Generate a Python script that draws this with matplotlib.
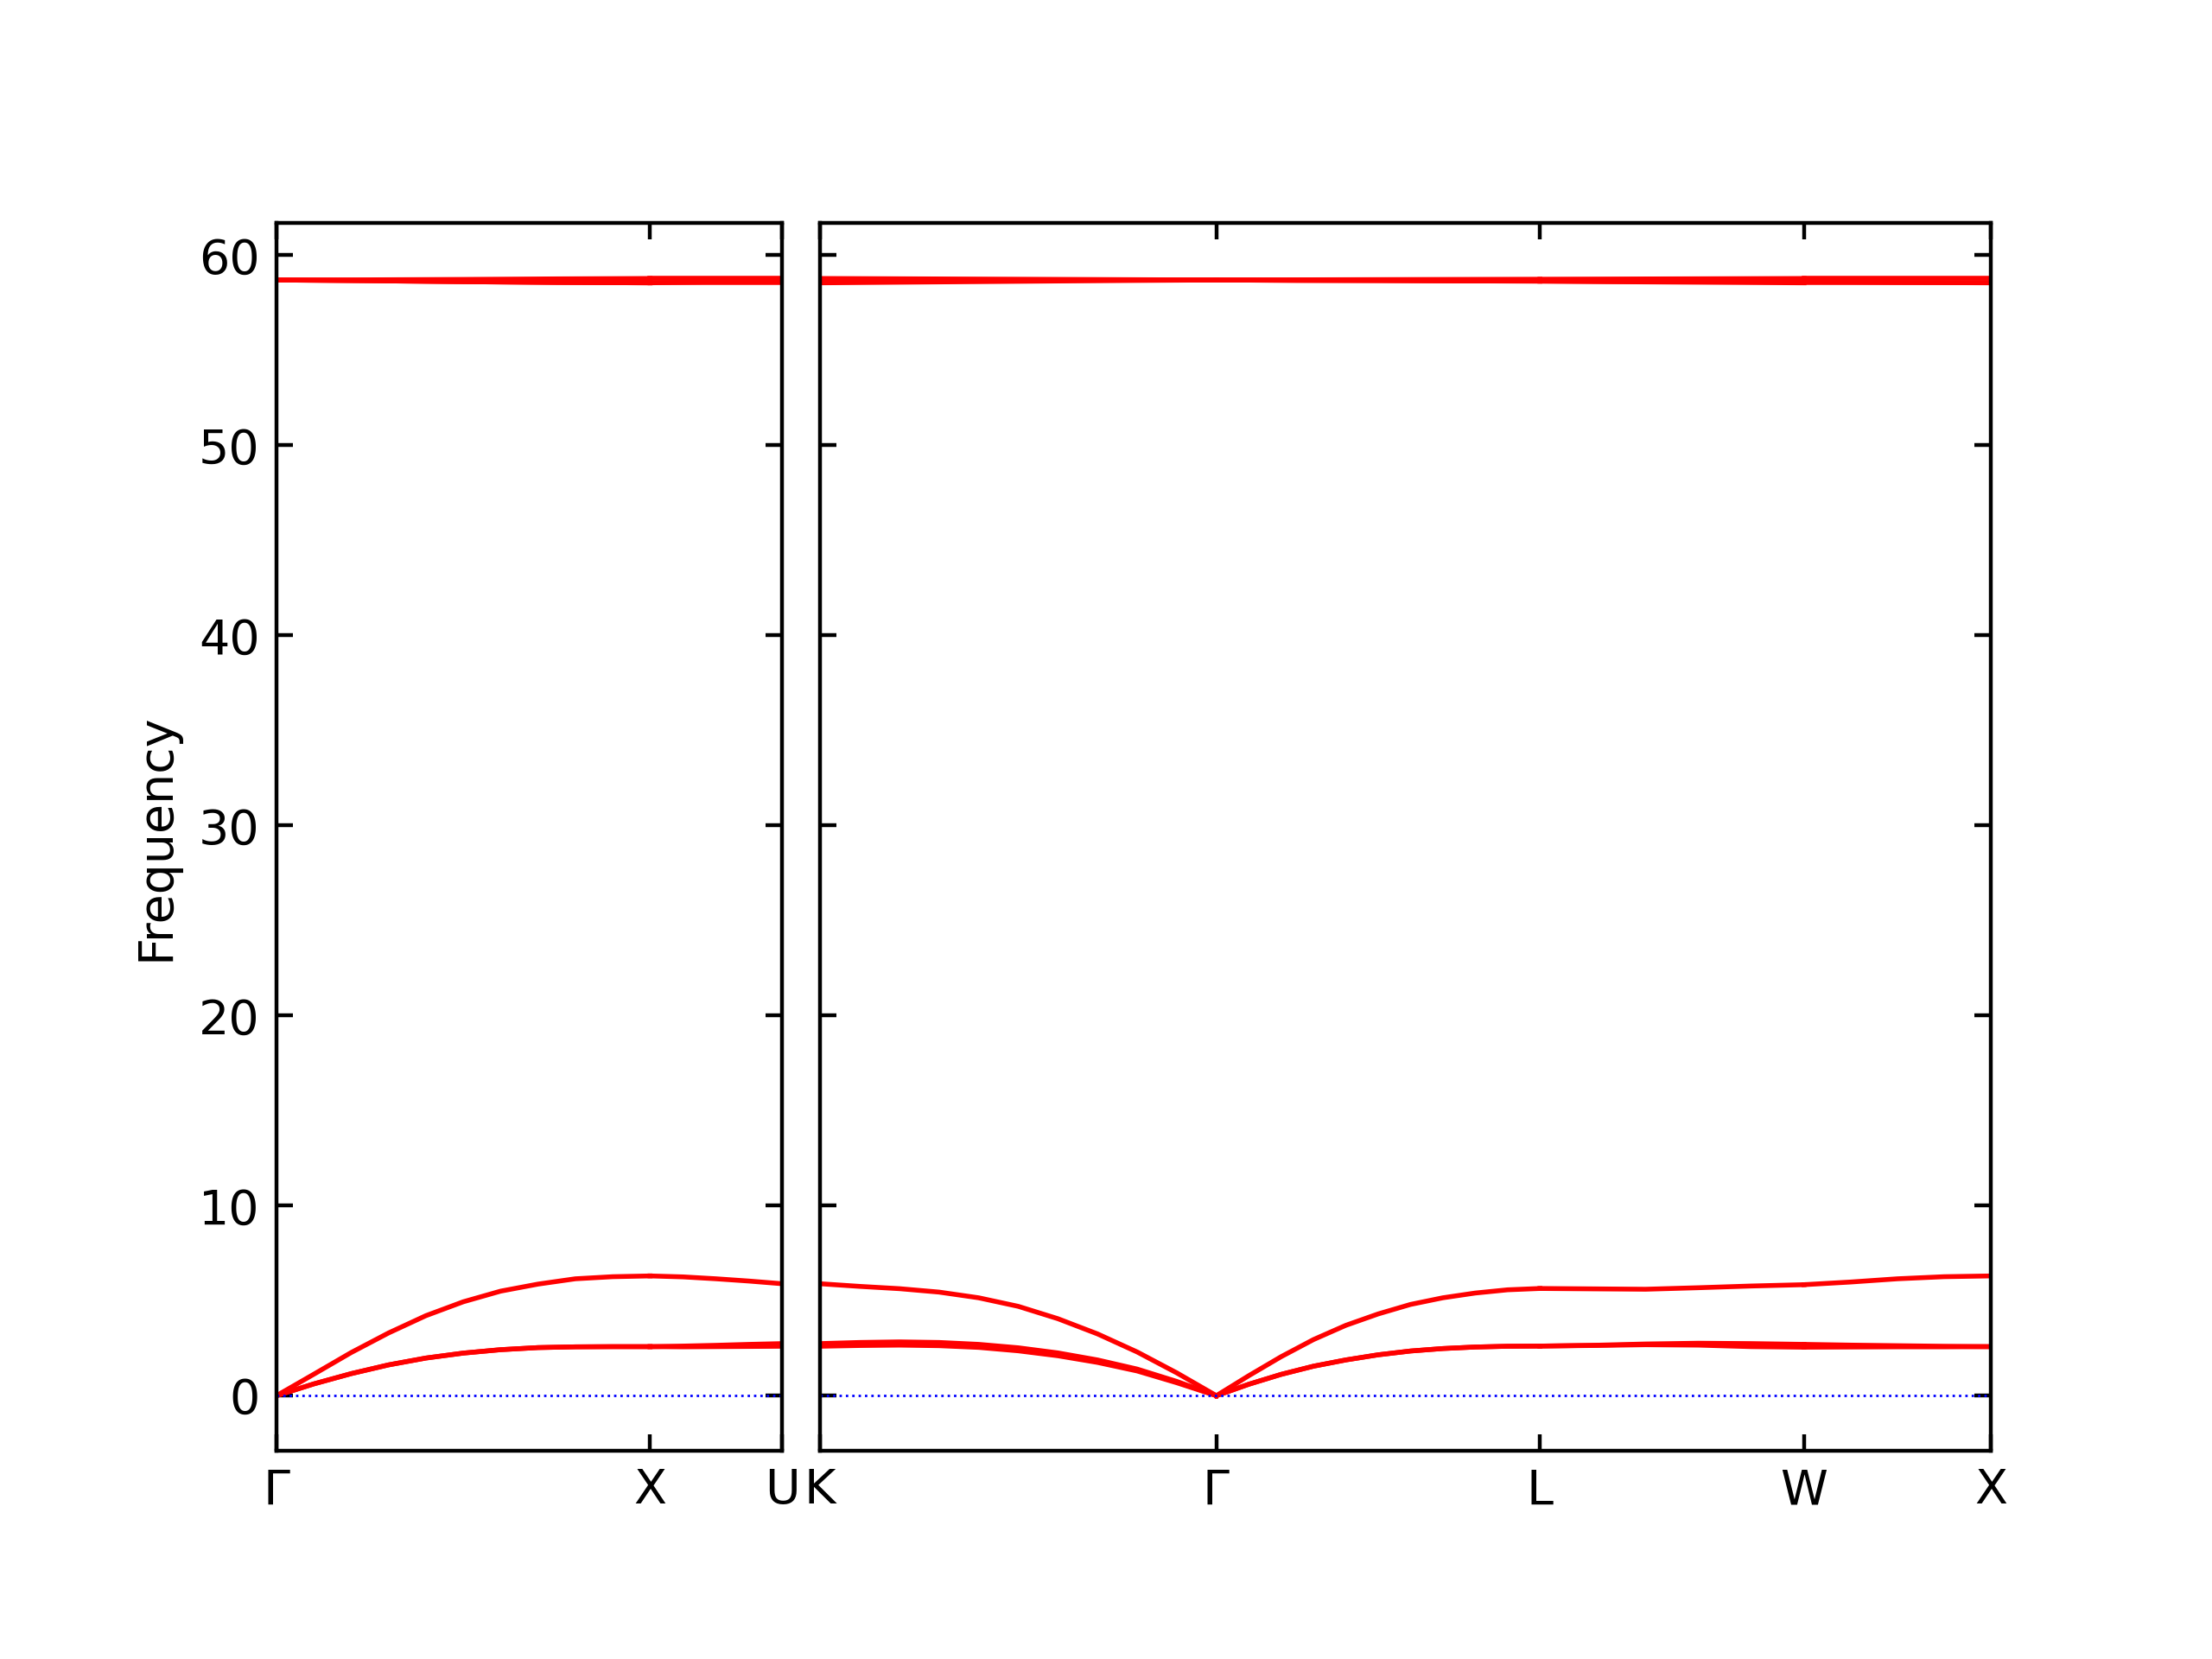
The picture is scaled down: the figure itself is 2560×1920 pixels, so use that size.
import numpy as np
import matplotlib
matplotlib.use("Agg")
import matplotlib.pyplot as plt

# segment lengths along the FCC path (2pi/a units)
seg_len = [1.0, 0.3536, 1.0607, 0.8660, 0.7071, 0.5]

# fractional positions sampled on each segment
t11 = [0.0, 0.1, 0.2, 0.3, 0.4, 0.5, 0.6, 0.7, 0.8, 0.9, 1.0]
t6 = [0.0, 0.2, 0.4, 0.6, 0.8, 1.0]
t5 = [0.0, 0.25, 0.5, 0.75, 1.0]

# acoustic branches: TA1, TA2, LA
gx_ac = [
    [0, 0.62, 1.16, 1.62, 1.98, 2.24, 2.42, 2.53, 2.57, 2.58, 2.58],
    [0, 0.62, 1.16, 1.62, 1.98, 2.24, 2.42, 2.53, 2.57, 2.58, 2.58],
    [0, 1.13, 2.27, 3.30, 4.21, 4.94, 5.50, 5.87, 6.15, 6.26, 6.30],
]
xu_ac = [
    [2.58, 2.57, 2.58, 2.59, 2.60],
    [2.58, 2.61, 2.65, 2.70, 2.74],
    [6.30, 6.25, 6.15, 6.03, 5.89],
]
kg_ac = [
    [2.60, 2.64, 2.66, 2.63, 2.54, 2.36, 2.10, 1.75, 1.30, 0.68, 0],
    [2.74, 2.80, 2.83, 2.80, 2.70, 2.52, 2.25, 1.88, 1.40, 0.75, 0],
    [5.89, 5.75, 5.63, 5.45, 5.15, 4.70, 4.05, 3.25, 2.30, 1.20, 0],
]
gl_ac = [
    [0, 0.60, 1.12, 1.55, 1.88, 2.15, 2.35, 2.48, 2.56, 2.60, 2.61],
    [0, 0.60, 1.12, 1.55, 1.88, 2.15, 2.35, 2.48, 2.56, 2.60, 2.61],
    [0, 1.05, 2.05, 2.95, 3.70, 4.30, 4.80, 5.15, 5.40, 5.57, 5.64],
]
lw_ac = [
    [2.61, 2.64, 2.68, 2.66, 2.58, 2.55],
    [2.61, 2.65, 2.72, 2.76, 2.74, 2.70],
    [5.64, 5.62, 5.60, 5.68, 5.77, 5.84],
]
wx_ac = [
    [2.55, 2.56, 2.57, 2.57, 2.58],
    [2.70, 2.66, 2.63, 2.60, 2.58],
    [5.84, 5.98, 6.15, 6.26, 6.30],
]

# optical branches
gx_op = [
    [58.70, 58.71, 58.73, 58.76, 58.78],
    [58.70, 58.66, 58.61, 58.57, 58.55],
    [58.70, 58.66, 58.61, 58.57, 58.55],
]
xu_op = [
    [58.78, 58.78, 58.78, 58.78, 58.78],
    [58.55, 58.58, 58.61, 58.64, 58.66],
    [58.55, 58.55, 58.55, 58.55, 58.55],
]
kg_op = [
    [58.78, 58.76, 58.74, 58.72, 58.70],
    [58.66, 58.67, 58.68, 58.69, 58.70],
    [58.55, 58.59, 58.63, 58.67, 58.70],
]
gl_op = [
    [58.70, 58.71, 58.72, 58.73, 58.74],
    [58.70, 58.68, 58.67, 58.65, 58.64],
    [58.70, 58.68, 58.67, 58.65, 58.64],
]
lw_op = [
    [58.74, 58.75, 58.76, 58.77, 58.78],
    [58.64, 58.63, 58.62, 58.61, 58.60],
    [58.64, 58.61, 58.59, 58.57, 58.55],
]
wx_op = [
    [58.78, 58.78, 58.78, 58.78, 58.78],
    [58.60, 58.59, 58.57, 58.56, 58.55],
    [58.55, 58.55, 58.55, 58.55, 58.55],
]

left_labels = ["$\\Gamma$", "X", "U"]
right_labels = ["K", "$\\Gamma$", "L", "W", "X"]

left_segs = [(t11, gx_ac, gx_op, t5), (t5, xu_ac, xu_op, t5)]
right_segs = [(t11, kg_ac, kg_op, t5), (t11, gl_ac, gl_op, t5),
              (t6, lw_ac, lw_op, t5), (t5, wx_ac, wx_op, t5)]

fig = plt.figure(figsize=(6.4, 4.8), dpi=400)

left_len = sum(seg_len[:2])
right_len = sum(seg_len[2:])
gap = 0.11 / 6.4
avail = 0.775 - gap
w1 = avail * left_len / (left_len + right_len)
w2 = avail - w1
bottom, height = 0.1255, 0.7401

ax1 = fig.add_axes([0.125, bottom, w1, height])
ax2 = fig.add_axes([0.125 + w1 + gap, bottom, w2, height])


def draw(ax, segs, lens, labels):
    start = 0.0
    ticks = [0.0]
    for (ta, ac, op, to), L in zip(segs, lens):
        xa = start + np.array(ta) * L
        xo = start + np.array(to) * L
        for band in ac:
            ax.plot(xa, band, "r-", linewidth=1)
        for band in op:
            ax.plot(xo, band, "r-", linewidth=1)
        start += L
        ticks.append(start)
    ax.axhline(0, color="b", linestyle=":", linewidth=0.5)
    ax.set_xlim(0, start)
    ax.set_ylim(-2.9, 61.7)
    ax.set_xticks(ticks)
    ax.set_xticklabels(labels)
    ax.set_yticks(range(0, 61, 10))
    ax.tick_params(direction="in", top=True, right=True)


draw(ax1, left_segs, seg_len[:2], left_labels)
draw(ax2, right_segs, seg_len[2:], right_labels)
ax2.tick_params(labelleft=False)
ax1.set_ylabel("Frequency")

fig.savefig("out.png", dpi=400)
